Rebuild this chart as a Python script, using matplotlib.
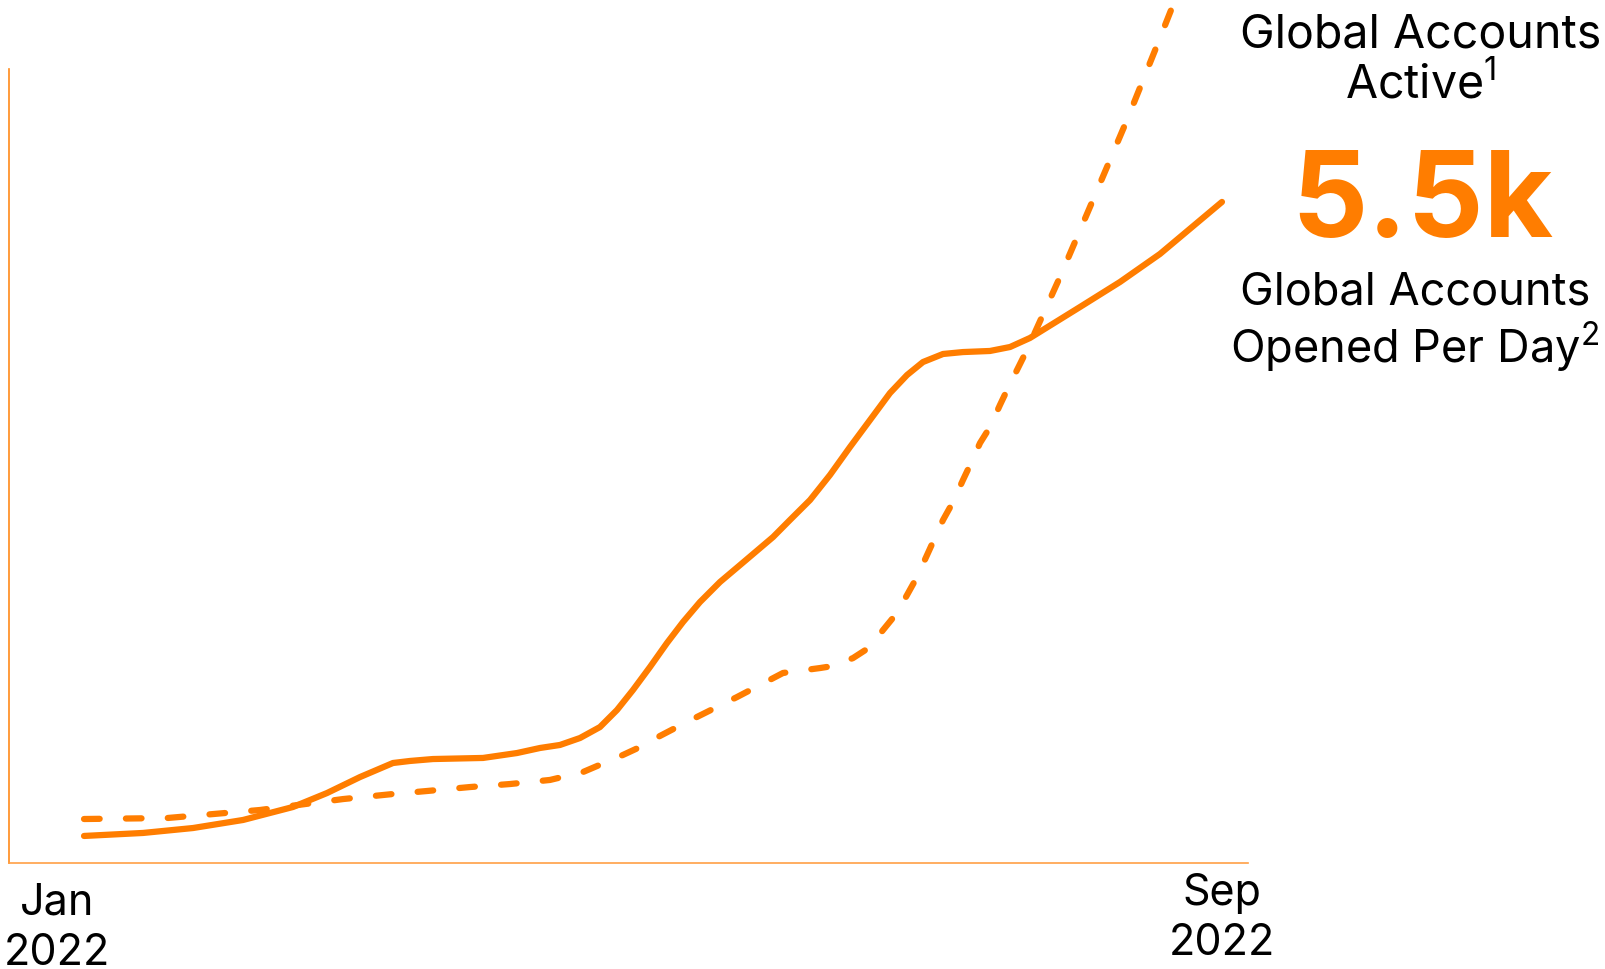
import matplotlib
matplotlib.use("Agg")
import matplotlib.pyplot as plt
import matplotlib.transforms as mtransforms

# months after Jan 2022 (0 = Jan, 8 = Sep) and values in thousands
opened_x = [0.0, 0.415, 0.766, 1.118, 1.469, 1.708, 1.940, 2.172, 2.292, 2.453, 2.805,
            3.044, 3.206, 3.346, 3.487, 3.627, 3.747, 3.859, 3.979, 4.098, 4.211,
            4.330, 4.471, 4.612, 4.844, 4.963, 5.104, 5.244, 5.385, 5.526, 5.666,
            5.786, 5.898, 6.039, 6.179, 6.369, 6.510, 6.650, 7.002, 7.283, 7.564, 8.0]
opened_y = [0.225, 0.250, 0.291, 0.358, 0.466, 0.582, 0.715, 0.832, 0.849, 0.865, 0.874,
            0.915, 0.957, 0.982, 1.040, 1.131, 1.273, 1.439, 1.631, 1.830, 2.005,
            2.171, 2.338, 2.479, 2.712, 2.854, 3.020, 3.228, 3.461, 3.686, 3.910,
            4.060, 4.168, 4.235, 4.251, 4.260, 4.293, 4.368, 4.626, 4.834, 5.067, 5.5]

active_x = [0.0, 0.583, 1.237, 1.821, 2.172, 2.411, 2.714, 2.995, 3.276, 3.508,
            3.789, 3.909, 4.049, 4.169, 4.309, 4.436, 4.591, 4.914, 5.174, 5.265,
            5.406, 5.526, 5.617, 5.715, 5.786, 5.856, 6.039, 6.109, 6.179, 6.229,
            6.299, 6.369, 6.439, 6.496, 6.566, 6.629, 6.861, 7.093, 7.332, 7.550, 7.670]
active_y = [0.366, 0.374, 0.441, 0.532, 0.574, 0.599, 0.632, 0.657, 0.691, 0.757,
            0.899, 0.965, 1.057, 1.131, 1.215, 1.290, 1.381, 1.581, 1.622, 1.639,
            1.705, 1.797, 1.938, 2.080, 2.230, 2.379, 2.854, 3.003, 3.186, 3.311,
            3.494, 3.627, 3.810, 3.952, 4.118, 4.268, 4.875, 5.516, 6.181, 6.822, 7.180]

tick_pos = [-0.19, 8]
tick_labels = ["Jan\n2022", "Sep\n2022"]
big_number = "5.5k"
label_active = "Global Accounts\nActive$^{1}$"
label_opened = "Global Accounts\nOpened Per Day$^{2}$"

orange = "#FF7D00"
font = ["Inter", "DejaVu Sans"]

# superscripts drawn in the same family as the labels
plt.rcParams["mathtext.fontset"] = "custom"
plt.rcParams["mathtext.rm"] = "Inter"
plt.rcParams["mathtext.it"] = "Inter"
plt.rcParams["mathtext.bf"] = "Inter:bold"

fig = plt.figure(figsize=(16.06, 9.69), dpi=100)
ax = fig.add_axes([8.5 / 1606, 1 - 863 / 969, (1248 - 8.5) / 1606, (863 - 69) / 969])
ax.set_xlim(-0.531, 8.183)
ax.set_ylim(0, 6.606)

ax.plot(opened_x, opened_y, color=orange, lw=4.5, solid_capstyle="round",
        solid_joinstyle="round")
ax.plot(active_x, active_y, color=orange, lw=4.5, dashes=(2.5, 4.2),
        dash_capstyle="round", dash_joinstyle="round", clip_on=False)

for s in ["top", "right"]:
    ax.spines[s].set_visible(False)
ax.spines["left"].set_color("#FF8A1A")
ax.spines["bottom"].set_color("#FF9F45")
ax.spines["left"].set_linewidth(1.2)
ax.spines["bottom"].set_linewidth(1.2)
ax.set_xticks([])
ax.set_yticks([])

# month labels under the axis
trans = mtransforms.blended_transform_factory(ax.transData, ax.transAxes)
ax.text(tick_pos[0], -0.025, tick_labels[0], transform=trans, ha="center", va="top",
        fontsize=31, family=font, linespacing=1.3)
ax.text(tick_pos[1], -0.012, tick_labels[1], transform=trans, ha="center", va="top",
        fontsize=31, family=font, linespacing=1.3)

fig.text(1421 / 1606, 1 - 61 / 969, label_active, ha="center", va="center",
         fontsize=33.5, family=font, linespacing=1.12)
fig.text(1422 / 1606, 1 - 206 / 969, big_number, ha="center", va="center",
         fontsize=86, fontweight="bold", color=orange, family=font)
fig.text(1415 / 1606, 1 - 323 / 969, label_opened, ha="center", va="center",
         fontsize=32.5, family=font, linespacing=1.15)

fig.savefig("out.png", dpi=100)
